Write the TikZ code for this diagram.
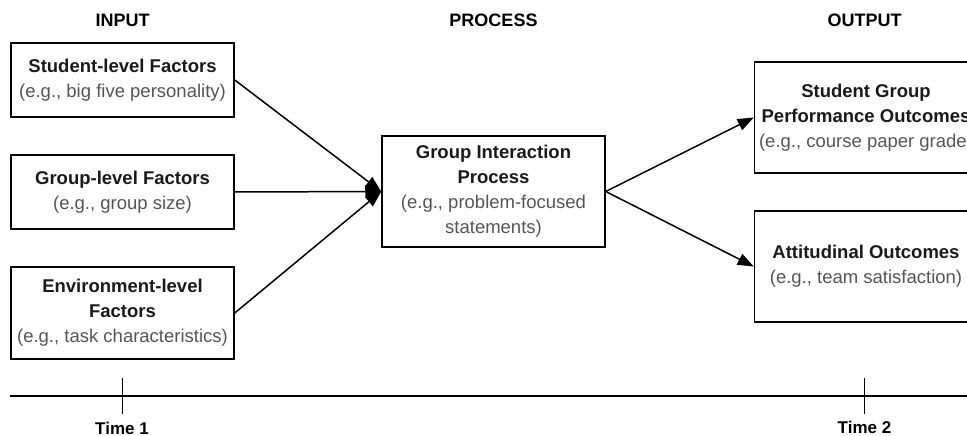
\documentclass[tikz,border=0pt]{standalone}
\usepackage{fontspec}
\setmainfont{Liberation Sans}
\usetikzlibrary{arrows.meta}
\definecolor{subgrey}{HTML}{555555}
\definecolor{titleblack}{HTML}{1A1A1A}
\newcommand{\boxfont}{\fontsize{18.5}{25}\selectfont}
\newcommand{\ttl}[1]{\textcolor{titleblack}{\bfseries #1}}
\newcommand{\eg}[1]{\textcolor{subgrey}{#1}}
\begin{document}
\begin{tikzpicture}[x=1pt,y=-1pt]
  \useasboundingbox (0,0) rectangle (967,436);
  \clip (0,0) rectangle (967,436);
  % column headings
  \begin{scope}[every node/.style={font=\fontsize{18}{20}\selectfont\bfseries,anchor=base}]
  \node (hin) at (122.5,27) {INPUT};
  \node (hpr) at (493.5,27) {PROCESS};
  \node (hout) at (864.5,27) {OUTPUT};
  \end{scope}
  % boxes
  \begin{scope}[every node/.style={draw,line width=1.5pt,font=\boxfont,align=center,
      inner sep=0pt,minimum width=223pt,minimum height=111pt}]
  \node[minimum height=74pt] (stud) at (122.5,80) {\ttl{Student-level Factors}\\\eg{(e.g., big five personality)}};
  \node[minimum height=74pt] (grp) at (122.5,192) {\ttl{Group-level Factors}\\\eg{(e.g., group size)}};
  \node[minimum height=92pt] (env) at (122.5,313) {\ttl{Environment-level}\\\ttl{Factors}\\\eg{(e.g., task characteristics)}};
  \node (proc) at (493.5,191.5) {\ttl{Group Interaction}\\\ttl{Process}\\\eg{(e.g., problem-focused}\\\eg{statements)}};
  \node (perf) at (866,117.5) {\ttl{Student Group}\\\ttl{Performance Outcomes}\\\eg{(e.g., course paper grade)}};
  \node (att) at (866,266.5) {\ttl{Attitudinal Outcomes}\\\eg{(e.g., team satisfaction)}};
  \end{scope}
  % arrows
  \begin{scope}[every edge/.style={draw=black,line width=1.5pt,-{Triangle[length=16pt,width=12pt]}}]
  \path (stud.east) edge (proc.west);
  \path (grp.east) edge (proc.west);
  \path (env.east) edge (proc.west);
  \path (proc.east) edge (perf.west);
  \path (proc.east) edge (att.west);
  \end{scope}
  % time line
  \coordinate (tl) at (10,396);
  \coordinate (tr) at (967,396);
  \coordinate (t1) at (122,396);
  \coordinate (t2) at (864.5,396);
  \draw[line width=1.5pt] (tl) -- (tr);
  \draw[line width=1pt] ([yshift=18pt]t1) -- ([yshift=-18pt]t1);
  \draw[line width=1pt] ([yshift=18pt]t2) -- ([yshift=-18pt]t2);
  \begin{scope}[every node/.style={font=\fontsize{17}{19}\selectfont\bfseries,anchor=base}]
  \node (time1) at (122,434.5) {Time 1};
  \node (time2) at (864.5,433.5) {Time 2};
  \end{scope}
\end{tikzpicture}
\end{document}
